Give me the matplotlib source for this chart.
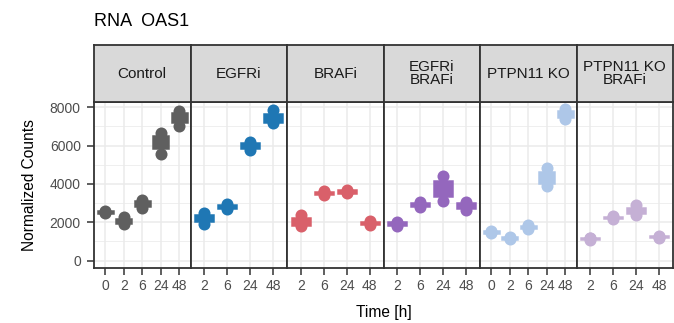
import numpy as np
import matplotlib
matplotlib.use("Agg")
import matplotlib.pyplot as plt
from matplotlib.patches import Rectangle

plt.rcParams['font.family'] = ['Liberation Sans', 'DejaVu Sans']

# facets and their time points
conditions = ["Control", "EGFRi", "BRAFi", "EGFRi\nBRAFi", "PTPN11 KO", "PTPN11 KO\nBRAFi"]
times = [
    ["0", "2", "6", "24", "48"],
    ["2", "6", "24", "48"],
    ["2", "6", "24", "48"],
    ["2", "6", "24", "48"],
    ["0", "2", "6", "24", "48"],
    ["2", "6", "24", "48"],
]
colors = ["#5f5f5f", "#1f77b4", "#d9606a", "#9467bd", "#aec7e8", "#c5b0d5"]

# replicate counts per time point
control = [[2480, 2530, 2580], [1910, 2050, 2250], [2730, 3050, 3160],
           [5560, 6300, 6650], [7000, 7550, 7780]]
egfri = [[1930, 2250, 2470], [2680, 2800, 2960], [5750, 6000, 6200],
         [7150, 7300, 7850]]
brafi = [[1780, 1900, 2370], [3420, 3550, 3640], [3500, 3600, 3700],
         [1850, 1950, 2060]]
egfri_brafi = [[1820, 1950, 2030], [2800, 2950, 3040], [3080, 3800, 4430],
               [2640, 2900, 3050]]
ptpn11 = [[1420, 1500, 1560], [1110, 1180, 1250], [1640, 1750, 1860],
          [3880, 4300, 4850], [7380, 7650, 7880]]
ptpn11_brafi = [[1070, 1150, 1200], [2160, 2250, 2300], [2400, 2550, 2900],
                [1200, 1250, 1300]]
values = [control, egfri, brafi, egfri_brafi, ptpn11, ptpn11_brafi]

W, H = 674, 323
fig = plt.figure(figsize=(W / 100, H / 100), dpi=100)

left, right = 94, 673
ptop, pbot = 102, 268
stop = 45
pw = (right - left) / len(conditions)
dark = "#333333"

for i, cond in enumerate(conditions):
    x0 = left + i * pw
    ax = fig.add_axes([x0 / W, (H - pbot) / H, pw / W, (pbot - ptop) / H])
    n = len(times[i])
    xs = np.arange(n)

    for j in range(n):
        pts = np.array(values[i][j])
        m = pts.mean()
        se = pts.std(ddof=1) / np.sqrt(len(pts))
        ax.add_patch(Rectangle((j - 0.4, m - se), 0.8, 2 * se,
                               facecolor=colors[i], edgecolor=colors[i],
                               linewidth=1.8, zorder=3))
        ax.scatter(np.full(len(pts), j), pts, s=75, color=colors[i],
                   linewidths=0, zorder=4)

    ax.set_xlim(-0.6, n - 0.4)
    ax.set_ylim(-390, 8270)
    ax.set_xticks(xs)
    ax.set_xticklabels(times[i])
    ax.set_yticks([0, 2000, 4000, 6000, 8000])
    ax.set_yticks([1000, 3000, 5000, 7000], minor=True)
    ax.grid(True, which="major", color="#ebebeb", linewidth=1.1, zorder=0)
    ax.grid(True, which="minor", axis="y", color="#ebebeb", linewidth=0.55, zorder=0)
    ax.set_axisbelow(True)
    ax.tick_params(which="major", length=5, width=1.1, color=dark,
                   labelsize=10, labelcolor="#4d4d4d")
    ax.tick_params(axis="x", pad=3)
    ax.tick_params(axis="y", pad=4.5)
    ax.tick_params(which="minor", length=0)
    if i > 0:
        ax.tick_params(axis="y", left=False, labelleft=False)
    for sp in ax.spines.values():
        sp.set_color(dark)
        sp.set_linewidth(1.3)

    # strip on top of each panel
    sax = fig.add_axes([x0 / W, (H - ptop) / H, pw / W, (ptop - stop) / H])
    sax.set_facecolor("#d9d9d9")
    sax.set_xticks([])
    sax.set_yticks([])
    for sp in sax.spines.values():
        sp.set_color(dark)
        sp.set_linewidth(1.3)
    sax.text(0.5, 0.5, cond, ha="center", va="center", fontsize=11,
             color="#1a1a1a", linespacing=0.95, transform=sax.transAxes)

fig.text(left / W, 1 - 21 / H, "RNA  OAS1", fontsize=13, ha="left", va="center")
fig.text(30 / W, 1 - 185 / H, "Normalized Counts", fontsize=11.2,
         rotation=90, ha="center", va="center")
fig.text((left + right) / 2 / W, 1 - 312 / H, "Time [h]", fontsize=11.2,
         ha="center", va="center")

fig.savefig("out.png", dpi=100)
